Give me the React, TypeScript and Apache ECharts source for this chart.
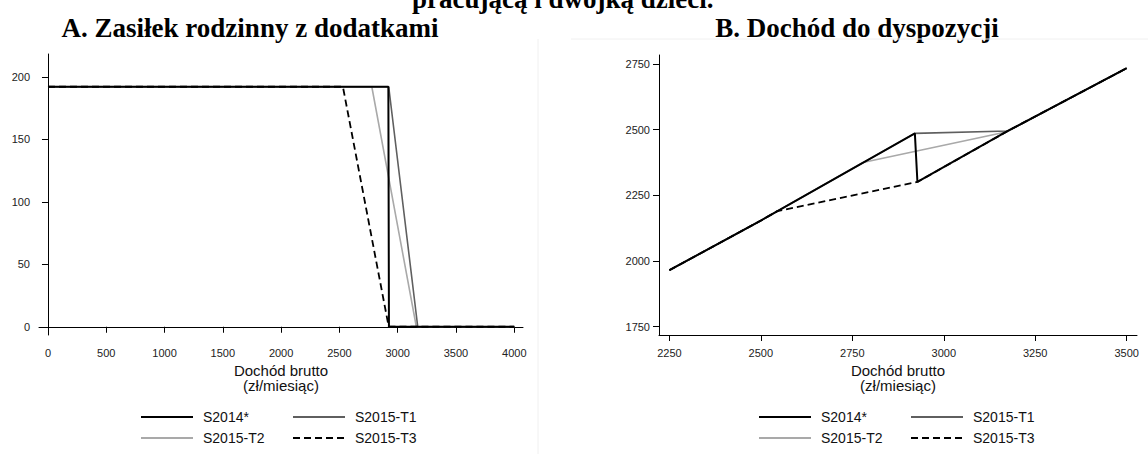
import React, { useEffect, useRef } from "react";
import * as echarts from "echarts";

// ---- data ----
const legendNames = ["S2014*", "S2015-T1", "S2015-T2", "S2015-T3"];

const leftXTicks = [0, 500, 1000, 1500, 2000, 2500, 3000, 3500, 4000];
const leftYTicks = [0, 50, 100, 150, 200];
const rightXTicks = [2250, 2500, 2750, 3000, 3250, 3500];
const rightYTicks = [1750, 2000, 2250, 2500, 2750];

// Panel A: family allowance with supplements (zł) vs gross income
const leftS2014 = [[0, 192], [2920, 192], [2925, 0], [4000, 0]];
const leftT1 = [[0, 192], [2923, 192], [3172, 0], [4000, 0]];
const leftT2 = [[0, 192], [2778, 192], [3160, 0], [4000, 0]];
const leftT3 = [[0, 192], [2530, 192], [2923, 0], [4000, 0]];

// Panel B: disposable income vs gross income
const rightS2014 = [[2250, 1965], [2500, 2154], [2921, 2486], [2928, 2301], [3180, 2499], [3500, 2734]];
const rightT1 = [[2250, 1965], [2500, 2154], [2921, 2486], [3176, 2495], [3500, 2734]];
const rightT2 = [[2250, 1965], [2500, 2154], [2779, 2375], [3170, 2491], [3500, 2734]];
const rightT3 = [[2250, 1965], [2500, 2154], [2545, 2190], [2928, 2301], [3180, 2499], [3500, 2734]];

const FONT = "Liberation Sans";
const SERIF = "Liberation Serif";

const styles: Record<string, any> = {
  "S2014*": { color: "#000000", width: 2, type: "solid" },
  "S2015-T1": { color: "#5f5f5f", width: 1.6, type: "solid" },
  "S2015-T2": { color: "#a9a9a9", width: 1.6, type: "solid" },
  "S2015-T3": { color: "#000000", width: 1.8, type: [7, 4] },
};

function mkSeries(name: string, data: number[][], idx: number, z: number) {
  const s = styles[name];
  return {
    type: "line",
    name,
    data,
    xAxisIndex: idx,
    yAxisIndex: idx,
    symbol: "none",
    showSymbol: false,
    z,
    lineStyle: { color: s.color, width: s.width, type: s.type },
    itemStyle: { color: s.color },
    emphasis: { disabled: true },
  };
}

const plain = (v: number) => String(v);

function xAxis(grid: number, min: number, max: number, ticks: number[]) {
  return {
    type: "value",
    gridIndex: grid,
    min,
    max,
    axisLine: { show: true, lineStyle: { color: "#000", width: 1 } },
    axisTick: { show: true, customValues: ticks, length: 6, lineStyle: { color: "#000", width: 1 } },
    axisLabel: { customValues: ticks, formatter: plain, fontSize: 11, color: "#222", margin: 12, fontFamily: FONT },
    splitLine: { show: false },
    name: "Dochód brutto\n(zł/miesiąc)",
    nameLocation: "middle",
    nameGap: 23,
    nameTextStyle: { fontSize: 15, lineHeight: 15, color: "#111", fontFamily: FONT },
  };
}

function yAxis(grid: number, min: number, max: number, ticks: number[]) {
  return {
    type: "value",
    gridIndex: grid,
    min,
    max,
    axisLine: { show: true, lineStyle: { color: "#000", width: 1 } },
    axisTick: { show: true, customValues: ticks, length: 6, lineStyle: { color: "#000", width: 1 } },
    axisLabel: { customValues: ticks, formatter: plain, fontSize: 11, color: "#222", margin: 9, fontFamily: FONT },
    splitLine: { show: false },
  };
}

function legend(left: number) {
  return {
    data: legendNames,
    left,
    top: 409,
    width: 300,
    orient: "horizontal",
    padding: 0,
    itemWidth: 52,
    itemHeight: 14,
    itemGap: 5,
    selectedMode: false,
    itemStyle: { opacity: 0 },
    textStyle: { fontSize: 14, color: "#111", fontFamily: FONT, width: 84, lineHeight: 16, padding: [0, 0, 0, 5] },
  };
}

export default function App() {
  const ref = useRef<HTMLDivElement>(null);
  useEffect(() => {
    if (!ref.current) return;
    const chart = echarts.init(ref.current, null, { renderer: "svg" });
    const option: any = {
      animation: false,
      backgroundColor: "#ffffff",
      textStyle: { fontFamily: FONT },
      grid: [
        { left: 39, top: 54, width: 484, height: 281 },
        { left: 659, top: 55, width: 478, height: 280 },
      ],
      xAxis: [xAxis(0, -77, 4075, leftXTicks), xAxis(1, 2221.6, 3528.2, rightXTicks)],
      yAxis: [yAxis(0, -6.6, 218.2, leftYTicks), yAxis(1, 1718.4, 2784.3, rightYTicks)],
      legend: [legend(140), legend(758)],
      series: [
        mkSeries("S2015-T2", leftT2, 0, 2),
        mkSeries("S2015-T1", leftT1, 0, 3),
        mkSeries("S2015-T3", leftT3, 0, 4),
        mkSeries("S2014*", leftS2014, 0, 5),
        mkSeries("S2015-T2", rightT2, 1, 2),
        mkSeries("S2015-T1", rightT1, 1, 3),
        mkSeries("S2015-T3", rightT3, 1, 4),
        mkSeries("S2014*", rightS2014, 1, 5),
      ],
      graphic: [
        {
          type: "text",
          x: 412,
          y: -0.8,
          style: { text: "pracującą i dwójką dzieci.", font: `bold 27px "${SERIF}"`, fill: "#000", align: "left", verticalAlign: "middle" },
        },
        {
          type: "text",
          x: 250,
          y: 27.5,
          style: { text: "A. Zasiłek rodzinny z dodatkami", font: `bold 27px "${SERIF}"`, fill: "#000", align: "center", verticalAlign: "middle" },
        },
        {
          type: "text",
          x: 857,
          y: 27.5,
          style: { text: "B. Dochód do dyspozycji", font: `bold 27px "${SERIF}"`, fill: "#000", align: "center", verticalAlign: "middle" },
        },
        {
          type: "line",
          shape: { x1: 538, y1: 39, x2: 538, y2: 454 },
          style: { stroke: "#f0f0f0", lineWidth: 1 },
          silent: true,
        },
        {
          type: "line",
          shape: { x1: 571, y1: 39, x2: 1148, y2: 39 },
          style: { stroke: "#f0f0f0", lineWidth: 1 },
          silent: true,
        },
      ],
    };
    chart.setOption(option);
    return () => chart.dispose();
  }, []);
  return <div ref={ref} style={{ width: 1148, height: 454, position: "absolute", left: 0, top: 0 }} />;
}
